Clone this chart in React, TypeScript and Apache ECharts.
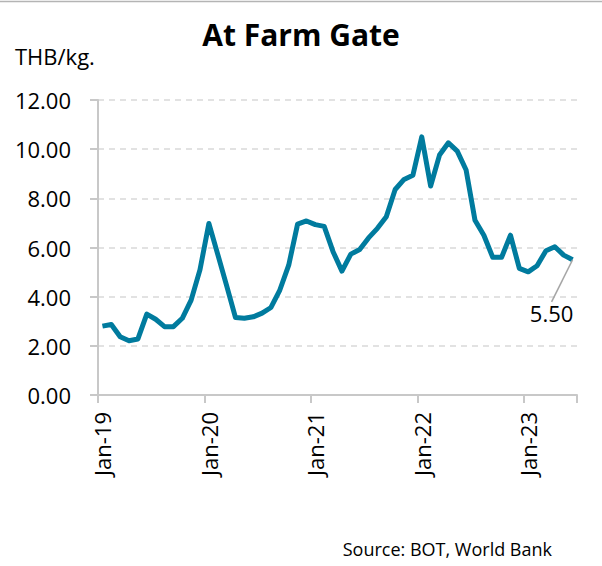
import React, { useEffect, useRef } from "react";
import * as echarts from "echarts";

const months: string[] = [
  "Jan-19","Feb-19","Mar-19","Apr-19","May-19","Jun-19","Jul-19","Aug-19","Sep-19","Oct-19","Nov-19","Dec-19",
  "Jan-20","Feb-20","Mar-20","Apr-20","May-20","Jun-20","Jul-20","Aug-20","Sep-20","Oct-20","Nov-20","Dec-20",
  "Jan-21","Feb-21","Mar-21","Apr-21","May-21","Jun-21","Jul-21","Aug-21","Sep-21","Oct-21","Nov-21","Dec-21",
  "Jan-22","Feb-22","Mar-22","Apr-22","May-22","Jun-22","Jul-22","Aug-22","Sep-22","Oct-22","Nov-22","Dec-22",
  "Jan-23","Feb-23","Mar-23","Apr-23","May-23","Jun-23",
];

const farmGatePrice: number[] = [
  2.80, 2.87, 2.37, 2.21, 2.28, 3.29, 3.08, 2.78, 2.78, 3.12, 3.86, 5.10,
  6.98, 5.72, 4.45, 3.15, 3.12, 3.18, 3.33, 3.56, 4.27, 5.28, 6.95, 7.08,
  6.93, 6.86, 5.83, 5.04, 5.73, 5.92, 6.39, 6.78, 7.25, 8.36, 8.77, 8.94,
  10.50, 8.50, 9.76, 10.26, 9.92, 9.15, 7.11, 6.50, 5.60, 5.60, 6.50, 5.15,
  5.01, 5.26, 5.87, 6.03, 5.69, 5.50,
];

const titleText = "At Farm Gate";
const unitText = "THB/kg.";
const sourceText = "Source: BOT, World Bank";

const FONT = "'Open Sans', sans-serif";

export default function App() {
  const ref = useRef<HTMLDivElement>(null);

  useEffect(() => {
    if (!ref.current) return;
    const chart = echarts.init(ref.current, null, { renderer: "svg" });
    const last = farmGatePrice.length - 1;
    const seriesData = farmGatePrice.map((v, i) =>
      i === last
        ? {
            value: v,
            label: {
              show: true,
              position: "bottom",
              distance: 0,
              formatter: (p: any) => Number(p.value).toFixed(2),
              fontSize: 22,
              fontFamily: FONT,
              color: "#000",
              padding: [12, 0, 0, 0],
            },
            labelLine: { show: true, lineStyle: { color: "#a6a6a6", width: 1.5 } },
          }
        : v
    );

    chart.setOption({
      animation: false,
      backgroundColor: "#fff",
      title: {
        text: titleText,
        left: "center",
        top: 14,
        textStyle: { fontSize: 30, fontWeight: "bold", fontFamily: FONT, color: "#000" },
      },
      grid: { left: 98, top: 100, width: 479, height: 295, containLabel: false },
      xAxis: {
        type: "category",
        data: months,
        boundaryGap: true,
        axisLine: { show: true, lineStyle: { color: "#c8c8c8", width: 2 } },
        axisTick: { show: true, interval: 11, length: 8, lineStyle: { color: "#c8c8c8", width: 2 } },
        axisLabel: {
          interval: 11,
          rotate: 90,
          margin: 17,
          fontSize: 22,
          fontFamily: FONT,
          color: "#000",
        },
        splitLine: { show: false },
      },
      yAxis: {
        type: "value",
        min: 0,
        max: 12,
        interval: 2,
        axisLine: { show: true, lineStyle: { color: "#c8c8c8", width: 2 } },
        axisTick: { show: true, length: 8, lineStyle: { color: "#c8c8c8", width: 2 } },
        axisLabel: {
          margin: 27,
          fontSize: 22,
          fontFamily: FONT,
          color: "#000",
          formatter: (v: number) => v.toFixed(2),
        },
        splitLine: { show: true, lineStyle: { color: "#d9d9d9", type: [6, 5], width: 1.5 } },
      },
      series: [
        {
          type: "line",
          data: seriesData,
          showSymbol: true,
          symbol: "circle",
          symbolSize: 0.1,
          lineStyle: { color: "#007b9e", width: 5, join: "round" },
          itemStyle: { color: "#007b9e" },
          label: { show: false },
          labelLayout: (p: any) => (p.dataIndex === last ? { dx: -21, dy: 30 } : {}),
        },
      ],
      graphic: [
        {
          type: "line",
          shape: { x1: 0, y1: 1.5, x2: 602, y2: 1.5 },
          style: { stroke: "#b4b4b4", lineWidth: 1.5 },
        },
        {
          type: "text",
          left: 15,
          top: 45,
          style: { text: unitText, fontSize: 22, fontFamily: FONT, fill: "#000" },
        },
        {
          type: "text",
          right: 50,
          top: 540,
          style: { text: sourceText, fontSize: 18, fontFamily: FONT, fill: "#000" },
        },
      ],
    });
    return () => chart.dispose();
  }, []);

  return (
    <div
      ref={ref}
      style={{ position: "absolute", left: 0, top: 0, width: 602, height: 566 }}
    />
  );
}
